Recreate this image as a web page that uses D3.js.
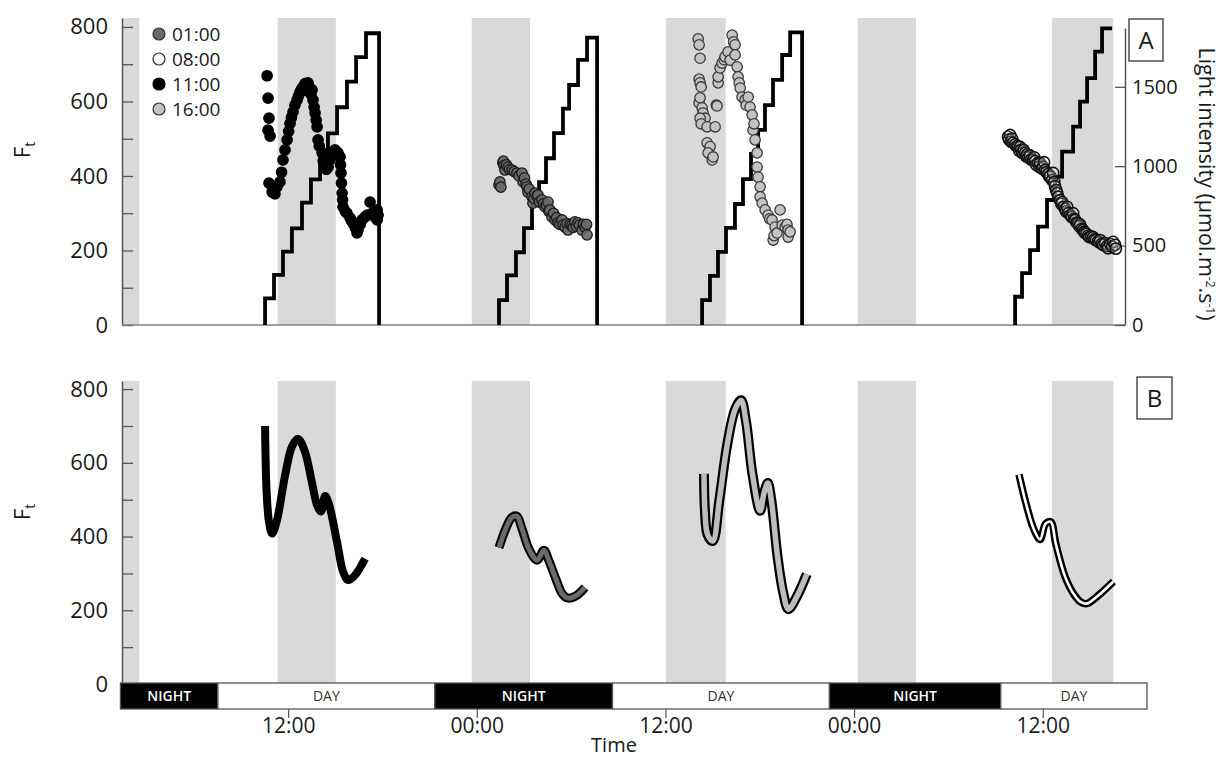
<!DOCTYPE html>
<html lang="en">
<head>
<meta charset="UTF-8">
<title>Ft and light intensity over time</title>
<script src="https://d3js.org/d3.v7.min.js"></script>
<style>
  body { margin: 0; background: #fff; }
  svg { display: block; font-family: "Open Sans", sans-serif; }
</style>
</head>
<body>
<div id="chart"></div>
<script>
// time is in hours from the first midnight
const tickHours = [12, 24, 36, 48, 60];
const tickLabels = ["12:00", "00:00", "12:00", "00:00", "12:00"];

// grey shaded intervals
const shadeStart = [1.4, 11.3, 23.65, 36.0, 48.2, 60.55];
const shadeEnd = [2.5, 15.0, 27.35, 39.8, 51.9, 64.45];

// night / day bar
const periodLabels = ["NIGHT", "DAY", "NIGHT", "DAY", "NIGHT", "DAY"];
const periodStart = [1.3, 7.5, 21.3, 32.6, 46.4, 57.3];
const periodEnd = [7.5, 21.3, 32.6, 46.4, 57.3, 66.6];

// legend
const seriesNames = ["01:00", "08:00", "11:00", "16:00"];

// light steps: time of each rise, the level reached, and when it ends
const light11Times = [10.50, 11.07, 11.64, 12.21, 12.85, 13.42, 14.00, 14.50, 15.08, 15.71, 16.29, 16.92];
const light11Levels = [168, 315, 462, 609, 770, 917, 1060, 1207, 1371, 1532, 1686, 1837];
const light11End = 17.75;
const light01Times = [25.38, 25.89, 26.46, 26.97, 27.48, 27.93, 28.37, 28.88, 29.45, 29.84, 30.41, 30.98];
const light01Levels = [157, 312, 458, 610, 755, 900, 1050, 1208, 1362, 1511, 1669, 1810];
const light01End = 31.62;
const light16Times = [38.30, 38.80, 39.31, 39.82, 40.39, 40.90, 41.41, 41.86, 42.30, 42.81, 43.39, 43.90];
const light16Levels = [157, 309, 460, 611, 762, 919, 1077, 1228, 1385, 1543, 1700, 1843];
const light16End = 44.66;
const light08Times = [58.21, 58.65, 59.16, 59.67, 60.24, 60.75, 61.20, 61.90, 62.34, 62.79, 63.30, 63.74];
const light08Levels = [178, 326, 472, 619, 787, 934, 1091, 1249, 1406, 1554, 1721, 1868];
const light08End = 64.38; // no drop for the last run

// measured Ft points [hour, Ft]
const points11 = [
  [10.63, 669], [10.69, 609], [10.75, 555], [10.69, 523], [10.82, 507], [10.75, 381], [10.95, 357],
  [11.01, 365], [11.13, 352], [11.26, 371], [11.45, 384], [11.55, 410], [11.64, 443], [11.77, 470],
  [11.90, 497], [12.00, 520], [12.09, 541], [12.18, 557], [12.28, 572], [12.40, 590], [12.54, 604],
  [12.63, 615], [12.73, 626], [12.82, 633], [12.92, 639], [13.04, 648], [13.10, 630], [13.23, 650],
  [13.30, 640], [13.42, 620], [13.49, 631], [13.55, 604], [13.62, 585], [13.68, 569], [13.75, 550],
  [13.81, 532], [13.87, 497], [13.95, 480], [14.13, 462], [14.20, 440], [14.32, 435], [14.40, 418],
  [14.51, 424], [14.63, 443], [14.72, 455], [14.82, 465], [14.95, 470], [15.14, 462], [15.27, 451],
  [15.30, 430], [15.33, 408], [15.36, 381], [15.40, 354], [15.43, 336], [15.46, 317], [15.60, 305],
  [15.71, 300], [15.91, 287], [16.00, 280], [16.10, 273], [16.25, 260], [16.35, 247], [16.41, 255],
  [16.55, 270], [16.67, 282], [16.86, 290], [17.00, 295], [17.18, 330], [17.31, 300], [17.40, 295],
  [17.50, 290], [17.63, 282], [17.63, 309], [17.69, 295]
];
const points01 = [
  [25.38, 376], [25.44, 384], [25.50, 370], [25.63, 435], [25.66, 440], [25.70, 428], [25.76, 416],
  [25.85, 430], [25.95, 424], [26.05, 418], [26.21, 416], [26.35, 412], [26.52, 408], [26.65, 400],
  [26.84, 408], [26.91, 384], [27.00, 395], [27.10, 378], [27.16, 371], [27.22, 357], [27.30, 365],
  [27.48, 344], [27.54, 327], [27.60, 340], [27.67, 354], [27.80, 345], [27.86, 349], [27.95, 330],
  [28.11, 336], [28.20, 325], [28.31, 317], [28.40, 322], [28.50, 330], [28.55, 305], [28.62, 309],
  [28.75, 290], [28.85, 300], [28.94, 282], [29.05, 288], [29.13, 274], [29.25, 270], [29.39, 282],
  [29.45, 268], [29.58, 263], [29.70, 272], [29.77, 255], [29.90, 270], [30.02, 268], [30.10, 262],
  [30.21, 277], [30.30, 265], [30.40, 274], [30.50, 268], [30.66, 255], [30.75, 270], [30.85, 263],
  [30.98, 242], [30.95, 270]
];
const points16 = [
  [38.05, 768], [38.11, 752], [38.17, 716], [38.11, 660], [38.17, 650], [38.24, 639], [38.11, 596],
  [38.17, 610], [38.30, 583], [38.36, 569], [38.49, 555], [38.17, 555], [38.24, 540], [38.62, 532],
  [39.13, 532], [39.20, 590], [38.62, 489], [38.81, 479], [38.68, 462], [38.94, 443], [39.00, 451],
  [39.25, 588], [39.32, 650], [39.32, 666], [39.44, 690], [39.57, 703], [39.70, 712], [39.76, 720],
  [39.95, 733], [40.08, 711], [40.21, 778], [40.30, 760], [40.40, 752], [40.40, 725], [40.53, 693],
  [40.59, 666], [40.66, 650], [40.72, 636], [40.84, 612], [41.03, 604], [41.10, 590], [41.23, 612],
  [41.35, 585], [41.48, 564], [41.54, 523], [41.60, 540], [41.67, 497], [41.80, 462], [41.80, 424],
  [41.86, 397], [41.99, 371], [41.99, 344], [42.12, 327], [42.31, 309], [42.50, 295], [42.60, 285],
  [42.75, 282], [42.94, 263], [42.82, 228], [42.88, 240], [43.07, 247], [43.26, 309], [43.39, 268],
  [43.58, 263], [43.70, 270], [43.77, 255], [43.77, 236], [43.90, 250]
];
const points08 = [
  [57.76, 505], [57.82, 498], [57.89, 510], [57.95, 492], [58.02, 500], [58.08, 489], [58.21, 485],
  [58.30, 480], [58.40, 479], [58.47, 468], [58.53, 478], [58.60, 470], [58.66, 462], [58.75, 470],
  [58.85, 462], [58.92, 452], [58.97, 458], [59.05, 450], [59.16, 455], [59.22, 444], [59.35, 443],
  [59.42, 450], [59.48, 440], [59.55, 430], [59.67, 435], [59.74, 425], [59.80, 435], [59.90, 420],
  [59.99, 425], [60.05, 437], [60.12, 416], [60.20, 410], [60.31, 405], [60.38, 398], [60.44, 400],
  [60.55, 389], [60.63, 408], [60.70, 384], [60.75, 372], [60.82, 362], [60.88, 354], [60.95, 344],
  [61.07, 335], [61.15, 325], [61.20, 330], [61.30, 317], [61.39, 312], [61.45, 305], [61.52, 317],
  [61.60, 300], [61.71, 295], [61.80, 290], [61.90, 300], [61.97, 285], [62.03, 282], [62.12, 275],
  [62.22, 273], [62.30, 265], [62.34, 270], [62.45, 258], [62.53, 255], [62.60, 250], [62.66, 247],
  [62.75, 245], [62.85, 240], [62.92, 236], [63.05, 238], [63.17, 236], [63.25, 230], [63.35, 228],
  [63.49, 225], [63.55, 222], [63.62, 228], [63.72, 218], [63.81, 215], [63.94, 220], [64.06, 212],
  [64.12, 206], [64.25, 218], [64.38, 210], [64.45, 223], [64.57, 215], [64.62, 205]
];

// fitted Ft curves for panel B [hour, Ft]
const curve11 = [
  [10.50, 700], [10.53, 620], [10.60, 520], [10.75, 440], [10.95, 408], [11.26, 445], [11.77, 565],
  [12.22, 645], [12.60, 665], [13.04, 630], [13.49, 545], [13.81, 485], [14.06, 468], [14.32, 510],
  [14.55, 490], [15.08, 385], [15.46, 305], [15.78, 282], [16.22, 295], [16.86, 340]
];
const curve01 = [
  [25.38, 370], [25.80, 420], [26.20, 452], [26.52, 455], [26.85, 420], [27.30, 365], [27.80, 336],
  [28.24, 363], [28.55, 335], [29.00, 285], [29.40, 245], [29.77, 233], [30.30, 240], [30.85, 262]
];
const curve16 = [
  [38.42, 570], [38.48, 470], [38.65, 405], [38.98, 388], [39.40, 500], [39.90, 650], [40.40, 745],
  [40.78, 770], [41.10, 710], [41.50, 570], [41.99, 470], [42.25, 520], [42.48, 545], [42.70, 500],
  [43.10, 345], [43.45, 250], [43.79, 203], [44.30, 235], [44.96, 298]
];
const curve08 = [
  [58.46, 568], [58.90, 490], [59.40, 420], [59.80, 392], [60.15, 435], [60.48, 440], [60.80, 380],
  [61.40, 290], [62.00, 240], [62.40, 222], [62.77, 218], [63.50, 240], [64.46, 278]
];

const width = 1222, height = 757;
const svg = d3.select("#chart").append("svg")
  .attr("width", width).attr("height", height)
  .attr("viewBox", [0, 0, width, height]);

const x = d3.scaleLinear().domain([1.4, 65.2]).range([122, 1125]);
const yA = d3.scaleLinear().domain([0, 824]).range([325, 18]);
const yLight = d3.scaleLinear().domain([0, 1870]).range([325, 28]);
const yB = d3.scaleLinear().domain([0, 822]).range([684, 381]);

const shades = shadeStart.map((s, i) => ({ s, e: shadeEnd[i] }));

function drawShades(yScale) {
  svg.append("g").selectAll("rect").data(shades).join("rect")
    .attr("x", d => x(d.s))
    .attr("width", d => x(d.e) - x(d.s))
    .attr("y", yScale.range()[1])
    .attr("height", yScale.range()[0] - yScale.range()[1])
    .attr("fill", "#d9d9db");
}

function leftAxis(yScale) {
  const g = svg.append("g")
    .attr("transform", `translate(${x.range()[0]},0)`)
    .call(d3.axisLeft(yScale)
      .tickValues(d3.range(0, 801, 100))
      .tickSize(-11).tickSizeOuter(0).tickPadding(14)
      .tickFormat(d => d % 200 === 0 ? d : ""));
  g.select(".domain").attr("stroke", "#555").attr("stroke-width", 1.5);
  g.selectAll(".tick line").attr("stroke", "#555").attr("stroke-width", 1.3);
  g.selectAll(".tick text").attr("font-size", 22).attr("fill", "#1a1a1a")
    .attr("font-family", "Open Sans, sans-serif");
  return g;
}

function ftLabel(cy) {
  const t = svg.append("text")
    .attr("transform", `translate(30,${cy}) rotate(-90)`)
    .attr("text-anchor", "middle")
    .attr("font-size", 22).attr("fill", "#1a1a1a");
  t.append("tspan").text("F");
  t.append("tspan").attr("font-size", 14).attr("dy", 5).text("t");
}

// ---------- panel A ----------
drawShades(yA);
leftAxis(yA);

svg.append("line")
  .attr("x1", x.range()[0]).attr("x2", x.range()[1])
  .attr("y1", yA(0)).attr("y2", yA(0))
  .attr("stroke", "#808080").attr("stroke-width", 1.5);

const rightAx = svg.append("g")
  .attr("transform", `translate(${x.range()[1]},0)`)
  .call(d3.axisRight(yLight).tickValues([0, 500, 1000, 1500])
    .tickSize(-10).tickSizeOuter(0).tickPadding(7).tickFormat(d3.format("d")));
rightAx.select(".domain").attr("stroke", "#555").attr("stroke-width", 1.5);
rightAx.selectAll(".tick line").attr("stroke", "#555").attr("stroke-width", 1.3);
rightAx.selectAll(".tick text").attr("font-size", 20).attr("fill", "#1a1a1a")
  .attr("font-family", "Open Sans, sans-serif");

// light staircases
function stepPoints(times, levels, end, drop) {
  const pts = [[times[0], 0]];
  times.forEach((t, i) => pts.push([t, levels[i]]));
  pts.push([end, levels[levels.length - 1]]);
  if (drop) pts.push([end, 0]);
  return pts;
}
const lightRuns = [
  stepPoints(light11Times, light11Levels, light11End, true),
  stepPoints(light01Times, light01Levels, light01End, true),
  stepPoints(light16Times, light16Levels, light16End, true),
  stepPoints(light08Times, light08Levels, light08End, false)
];
const stepLine = d3.line().x(d => x(d[0])).y(d => yLight(d[1])).curve(d3.curveStepAfter);
svg.append("g").selectAll("path").data(lightRuns).join("path")
  .attr("d", stepLine)
  .attr("fill", "none").attr("stroke", "#000").attr("stroke-width", 3.8)
  .attr("stroke-linejoin", "miter");

// scatter points
const dotStyles = {
  "01:00": { fill: "#6a6a6a", stroke: "#1a1a1a", r: 5.2, op: 0.9 },
  "08:00": { fill: "#ffffff", stroke: "#111", r: 5.6, op: 0.2 },
  "11:00": { fill: "#000000", stroke: "#000", r: 5.2, op: 1 },
  "16:00": { fill: "#c3c3c3", stroke: "#3a3a3a", r: 5.2, op: 1 }
};
const dotSets = [["11:00", points11], ["01:00", points01], ["16:00", points16], ["08:00", points08]];
dotSets.forEach(([name, pts]) => {
  const st = dotStyles[name];
  svg.append("g").selectAll("circle").data(pts).join("circle")
    .attr("cx", d => x(d[0])).attr("cy", d => yA(d[1]))
    .attr("r", st.r)
    .attr("fill", st.fill).attr("fill-opacity", st.op)
    .attr("stroke", st.stroke).attr("stroke-width", name === "08:00" ? 1.6 : 1.3);
});

// legend
const legend = svg.append("g").selectAll("g").data(seriesNames).join("g")
  .attr("transform", (d, i) => `translate(159,${34 + i * 25})`);
legend.append("circle").attr("r", 6)
  .attr("fill", d => dotStyles[d].fill)
  .attr("stroke", d => d === "11:00" ? "#000" : "#333").attr("stroke-width", 1.2);
legend.append("text").attr("x", 13).attr("dy", "0.36em")
  .attr("font-size", 19).attr("fill", "#1a1a1a").text(d => d);

ftLabel(150);

const lightLabel = svg.append("text")
  .attr("transform", "translate(1199,184) rotate(90)")
  .attr("text-anchor", "middle").attr("font-size", 21.5).attr("fill", "#1a1a1a");
lightLabel.append("tspan").text("Light intensity (µmol.m");
lightLabel.append("tspan").attr("font-size", 12).attr("dy", -7).text("-2");
lightLabel.append("tspan").attr("dy", 7).text(".s");
lightLabel.append("tspan").attr("font-size", 12).attr("dy", -7).text("-1");
lightLabel.append("tspan").attr("dy", 7).text(")");

function panelTag(letter, bx, by, w, h) {
  svg.append("rect").attr("x", bx).attr("y", by).attr("width", w).attr("height", h)
    .attr("fill", "#fff").attr("stroke", "#444").attr("stroke-width", 1.4);
  svg.append("text").attr("x", bx + w / 2).attr("y", by + h / 2).attr("dy", "0.36em")
    .attr("text-anchor", "middle").attr("font-size", 24).attr("fill", "#1a1a1a").text(letter);
}
panelTag("A", 1129, 19, 34, 42);

// ---------- panel B ----------
drawShades(yB);
leftAxis(yB);
ftLabel(512);

const smooth = d3.line().x(d => x(d[0])).y(d => yB(d[1])).curve(d3.curveCatmullRom.alpha(0.5));
const curveStyles = [
  { data: curve11, outer: 8, inner: 0, fill: "#000" },
  { data: curve01, outer: 9, inner: 5, fill: "#6a6a6a" },
  { data: curve16, outer: 10, inner: 5.5, fill: "#bdbdbd" },
  { data: curve08, outer: 7.5, inner: 2.6, fill: "#ffffff" }
];
curveStyles.forEach(c => {
  svg.append("path").attr("d", smooth(c.data))
    .attr("fill", "none").attr("stroke", "#000").attr("stroke-width", c.outer)
    .attr("stroke-linejoin", "round");
  if (c.inner > 0) {
    svg.append("path").attr("d", smooth(c.data))
      .attr("fill", "none").attr("stroke", c.fill).attr("stroke-width", c.inner)
      .attr("stroke-linejoin", "round");
  }
});

panelTag("B", 1137, 377, 35, 42);

// night / day bar
const periods = periodLabels.map((label, i) => ({ label, s: periodStart[i], e: periodEnd[i] }));
const barTop = 683, barH = 26;
const bar = svg.append("g").selectAll("g").data(periods).join("g");
bar.append("rect")
  .attr("x", d => x(d.s)).attr("width", d => x(d.e) - x(d.s))
  .attr("y", barTop).attr("height", barH)
  .attr("fill", d => d.label === "NIGHT" ? "#000" : "#fff")
  .attr("stroke", "#555").attr("stroke-width", 1.3);
bar.append("text")
  .attr("x", d => (x(d.s) + x(d.e)) / 2).attr("y", barTop + barH / 2).attr("dy", "0.36em")
  .attr("text-anchor", "middle").attr("font-size", 14)
  .attr("font-weight", d => d.label === "NIGHT" ? 600 : 400)
  .attr("fill", d => d.label === "NIGHT" ? "#fff" : "#333")
  .text(d => d.label);

// time ticks
const tg = svg.append("g").selectAll("g").data(tickHours).join("g")
  .attr("transform", d => `translate(${x(d)},0)`);
tg.append("line").attr("y1", barTop + barH).attr("y2", barTop + barH + 9)
  .attr("stroke", "#555").attr("stroke-width", 1.2);
tg.append("text").attr("y", 733).attr("text-anchor", "middle")
  .attr("font-size", 21).attr("fill", "#1a1a1a")
  .text((d, i) => tickLabels[i]);

svg.append("text").attr("x", 614).attr("y", 752).attr("text-anchor", "middle")
  .attr("font-size", 20).attr("fill", "#1a1a1a").text("Time");
</script>
</body>
</html>
